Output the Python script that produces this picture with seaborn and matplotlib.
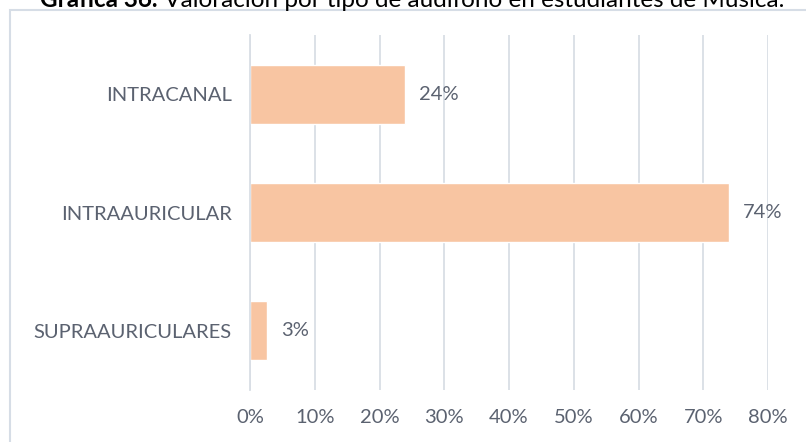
import pandas as pd
import matplotlib.pyplot as plt
import seaborn as sns
from matplotlib.patches import Rectangle
from matplotlib.ticker import PercentFormatter

# Data
categories = ['INTRACANAL', 'INTRAAURICULAR', 'SUPRAAURICULARES']
values = [0.24, 0.74, 0.026]
bar_labels = ['24%', '74%', '3%']
x_ticks = [0, 0.1, 0.2, 0.3, 0.4, 0.5, 0.6, 0.7, 0.8]

title_bold = 'Gráfica 36.'
title_rest = ' Valoración por tipo de audífono en estudiantes de Música.'

df = pd.DataFrame({'tipo': categories, 'valor': values})

sns.set_style('white')
plt.rcParams['font.family'] = ['Lato', 'DejaVu Sans']

text_color = '#5b6270'
grid_color = '#d9dee5'
bar_color = '#f8c5a2'

fig = plt.figure(figsize=(8.06, 4.42), dpi=100)
ax = fig.add_axes([250 / 806, 1 - 390 / 442, 518 / 806, 355 / 442])

sns.barplot(data=df, x='valor', y='tipo', order=categories, color=bar_color,
            saturation=1, width=0.5, ax=ax)

ax.set_xlim(0, 0.8)
ax.set_ylim(2.5, -0.5)
ax.set_xticks(x_ticks)
ax.xaxis.set_major_formatter(PercentFormatter(1.0, decimals=0))
ax.grid(axis='x', color=grid_color, linewidth=1.3)
ax.set_axisbelow(True)
for side in ['top', 'right', 'bottom']:
    ax.spines[side].set_visible(False)
ax.spines['left'].set_color(grid_color)
ax.spines['left'].set_linewidth(1.3)
ax.tick_params(axis='both', length=0, labelsize=14.5, colors=text_color)
ax.tick_params(axis='x', pad=14)
ax.tick_params(axis='y', pad=13)
ax.set_xlabel('')
ax.set_ylabel('')

ax.bar_label(ax.containers[0], labels=bar_labels, padding=10,
             fontsize=14.5, color=text_color)

# chart border, cut off on the right and bottom
fig.patches.append(Rectangle((10 / 806, -0.2), 1.2, 1.2 - 10 / 442,
                             transform=fig.transFigure, fill=False,
                             edgecolor='#d6dde6', linewidth=1.5))

# title, partly cut off at the top of the image
renderer = fig.canvas.get_renderer()
t1 = fig.text(40 / 806, 1 - 7 / 442, title_bold, ha='left', va='baseline',
              fontsize=17.5, fontweight='bold', color='black')
w = t1.get_window_extent(renderer).width
fig.text(40 / 806 + w / 806, 1 - 7 / 442, title_rest, ha='left',
         va='baseline', fontsize=17.5, color='black')

fig.savefig('out.png', dpi=100)
